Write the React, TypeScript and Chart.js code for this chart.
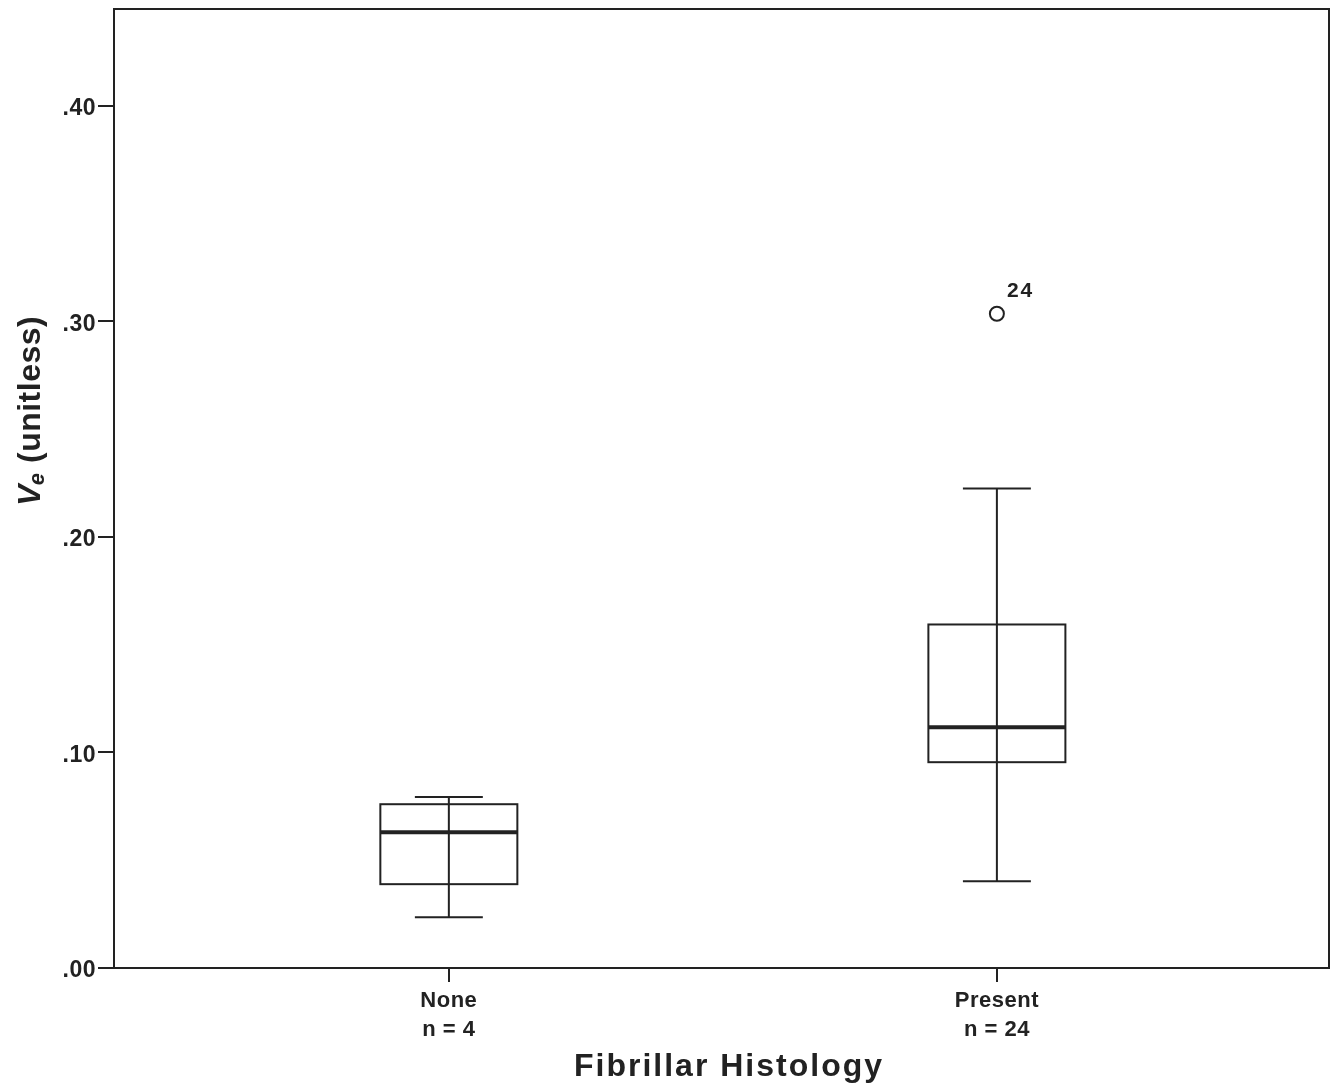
import React, { useEffect, useRef } from "react";
import { Chart, registerables } from "chart.js";

Chart.register(...registerables);

const categories = ["None", "Present"];
const sampleSizes = [4, 24];
const whiskerLow = [0.0236, 0.0403];
const q1 = [0.0389, 0.0955];
const median = [0.063, 0.1117];
const q3 = [0.076, 0.1594];
const whiskerHigh = [0.0793, 0.2225];
const outlierCategory = [1];
const outlierValue = [0.3036];
const outlierLabel = ["24"];
const yTicks = [0, 0.1, 0.2, 0.3, 0.4];

const INK = "#222";
const FONT = "'Liberation Sans', Arial, Helvetica, sans-serif";
const BOX_HALF = 0.125;
const CAP_HALF = 0.062;

const boxPlugin = {
  id: "boxplot",
  beforeDraw(chart: any) {
    (chart.ctx as any).letterSpacing = "0.5px";
  },
  beforeDatasetsDraw(chart: any) {
    const { ctx, scales } = chart;
    (ctx as any).letterSpacing = "0px";
    const x = scales.x;
    const y = scales.y;
    ctx.save();
    ctx.strokeStyle = INK;
    ctx.lineCap = "butt";
    categories.forEach((_, i) => {
      const xl = x.getPixelForValue(i - BOX_HALF);
      const xr = x.getPixelForValue(i + BOX_HALF);
      const xc = x.getPixelForValue(i);
      const cl = x.getPixelForValue(i - CAP_HALF);
      const cr = x.getPixelForValue(i + CAP_HALF);
      const yq1 = y.getPixelForValue(q1[i]);
      const yq3 = y.getPixelForValue(q3[i]);
      const ylo = y.getPixelForValue(whiskerLow[i]);
      const yhi = y.getPixelForValue(whiskerHigh[i]);
      const ymed = y.getPixelForValue(median[i]);
      ctx.fillStyle = "#fff";
      ctx.fillRect(xl, yq3, xr - xl, yq1 - yq3);
      ctx.lineWidth = 2;
      ctx.strokeRect(xl, yq3, xr - xl, yq1 - yq3);
      ctx.beginPath();
      ctx.moveTo(xc, ylo);
      ctx.lineTo(xc, yhi);
      ctx.moveTo(cl, ylo);
      ctx.lineTo(cr, ylo);
      ctx.moveTo(cl, yhi);
      ctx.lineTo(cr, yhi);
      ctx.stroke();
      ctx.lineWidth = 4;
      ctx.beginPath();
      ctx.moveTo(xl, ymed);
      ctx.lineTo(xr, ymed);
      ctx.stroke();
    });
    ctx.restore();
  },
  afterDraw(chart: any) {
    const { ctx, chartArea, scales } = chart;
    ctx.save();
    ctx.strokeStyle = INK;
    ctx.lineWidth = 2;
    ctx.strokeRect(chartArea.left, chartArea.top, chartArea.right - chartArea.left, chartArea.bottom - chartArea.top);

    // outlier labels
    ctx.fillStyle = INK;
    ctx.font = `bold 21px ${FONT}`;
    (ctx as any).letterSpacing = "2px";
    ctx.textAlign = "left";
    ctx.textBaseline = "alphabetic";
    outlierCategory.forEach((c, k) => {
      const px = scales.x.getPixelForValue(c);
      const py = scales.y.getPixelForValue(outlierValue[k]);
      ctx.fillText(outlierLabel[k], px + 10, py - 17);
    });

    // x title
    ctx.font = `bold 32px ${FONT}`;
    (ctx as any).letterSpacing = "2px";
    const xt = "Fibrillar Histology";
    const w = ctx.measureText(xt).width;
    ctx.fillText(xt, 728 - w / 2 + 1, 1076);

    // y title
    (ctx as any).letterSpacing = "0.5px";
    ctx.translate(40, 506);
    ctx.rotate(-Math.PI / 2);
    ctx.font = `italic bold 32px ${FONT}`;
    ctx.fillText("V", 0, 0);
    let off = ctx.measureText("V").width;
    ctx.font = `italic bold 22px ${FONT}`;
    ctx.fillText("e", off - 1, 4);
    off += ctx.measureText("e").width - 1;
    ctx.font = `bold 32px ${FONT}`;
    ctx.fillText(" (unitless)", off, 0);
    ctx.restore();
  },
};

export default function App() {
  const ref = useRef<HTMLCanvasElement | null>(null);
  useEffect(() => {
    if (!ref.current) return;
    const chart = new Chart(ref.current, {
      type: "scatter",
      data: {
        datasets: [
          {
            data: outlierCategory.map((c, k) => ({ x: c, y: outlierValue[k] })),
            pointRadius: 7,
            pointBorderWidth: 2,
            borderColor: INK,
            backgroundColor: "#fff",
          },
        ],
      },
      options: {
        animation: false,
        responsive: false,
        layout: { padding: { top: 9, right: 13, left: 0, bottom: 0 } },
        plugins: { legend: { display: false }, tooltip: { enabled: false } },
        scales: {
          x: {
            type: "linear",
            min: -0.611,
            max: 1.606,
            afterBuildTicks: (s: any) => {
              s.ticks = categories.map((_, i) => ({ value: i }));
            },
            afterFit: (s: any) => {
              s.height = 124;
              s.paddingLeft = 0;
              s.paddingRight = 0;
            },
            ticks: {
              autoSkip: false,
              maxRotation: 0,
              padding: 4,
              color: INK,
              font: { family: FONT, weight: "bold", size: 22, lineHeight: 1.32 },
              callback: (v: any) => [categories[v], `n = ${sampleSizes[v]}`],
            },
            grid: { drawOnChartArea: false, tickLength: 14, color: INK, lineWidth: 2 },
            border: { color: INK, width: 2 },
          },
          y: {
            min: 0,
            max: 0.445,
            afterBuildTicks: (s: any) => {
              s.ticks = yTicks.map((v) => ({ value: v }));
            },
            afterFit: (s: any) => {
              s.width = 114;
              s.paddingTop = 0;
              s.paddingBottom = 0;
            },
            ticks: {
              padding: 2,
              labelOffset: 3,
              color: INK,
              font: { family: FONT, weight: "bold", size: 23 },
              callback: (v: any) => Number(v).toFixed(2).replace(/^0/, ""),
            },
            grid: { drawOnChartArea: false, tickLength: 16, color: INK, lineWidth: 2 },
            border: { color: INK, width: 2 },
          },
        },
      },
      plugins: [boxPlugin],
    } as any);
    return () => chart.destroy();
  }, []);
  return (
    <div style={{ position: "fixed", left: 0, top: 0, width: 1342, height: 1092, background: "#fff" }}>
      <canvas ref={ref} width={1342} height={1092} style={{ width: 1342, height: 1092, display: "block" }} />
    </div>
  );
}
